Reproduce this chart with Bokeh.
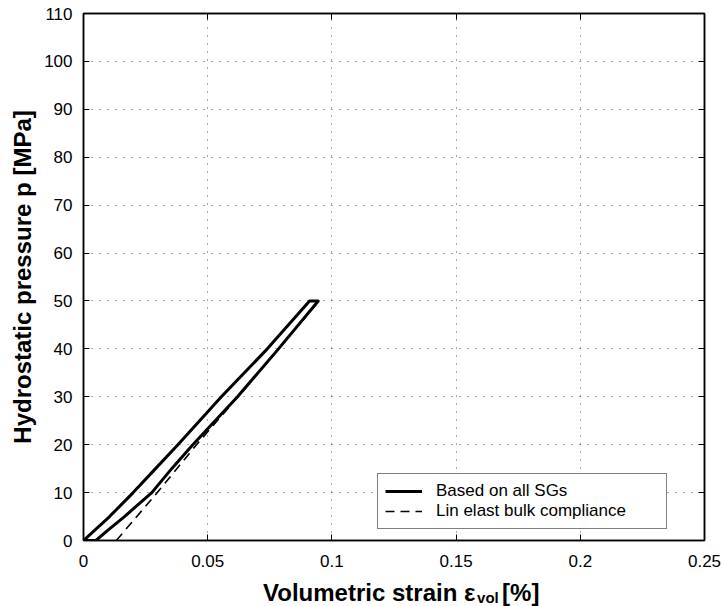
from bokeh.plotting import figure
from bokeh.models import (Range1d, FixedTicker, LinearAxis, Legend, LegendItem,
                          Label, CustomJSTickFormatter)
from bokeh.layouts import column
from bokeh.embed import file_html
from bokeh.resources import INLINE

# ---- data ----
loop_strain = [0.0, 0.0105, 0.0200, 0.0290, 0.0380, 0.0555, 0.0740, 0.0910,
               0.0945, 0.0785, 0.0620, 0.0440, 0.0355, 0.0275, 0.0165, 0.0095, 0.0050, 0.0]
loop_pressure = [0, 5, 10, 15, 20, 30, 40, 50,
                 50, 40, 30, 20, 15, 10, 5, 2, 0, 0]
lin_strain = [0.0132, 0.0297, 0.0455, 0.0622, 0.0786, 0.0948]
lin_pressure = [0, 10, 20, 30, 40, 50]

x_ticks = [0, 0.05, 0.1, 0.15, 0.2, 0.25]
x_tick_labels = ["0", "0.05", "0.1", "0.15", "0.2", "0.25"]
y_ticks = [0, 10, 20, 30, 40, 50, 60, 70, 80, 90, 100, 110]
series_names = ["Based on all SGs", "Lin elast bulk compliance"]

FONT = "Liberation Sans"
TITLE_H = 34

p = figure(width=721, height=606 - TITLE_H, x_range=Range1d(0, 0.25), y_range=Range1d(0, 110),
           output_backend="svg", toolbar_location=None,
           min_border_left=83, min_border_right=17, min_border_top=13,
           min_border_bottom=606 - TITLE_H - 540)
p.background_fill_color = "white"
p.border_fill_color = "white"
p.outline_line_color = "black"
p.outline_line_width = 1.5

# main axes
for ax in (p.xaxis[0], p.yaxis[0]):
    ax.major_tick_in = 6
    ax.major_tick_out = 0
    ax.minor_tick_in = 0
    ax.minor_tick_out = 0
    ax.axis_line_color = "black"
    ax.axis_line_width = 1.5
    ax.major_tick_line_color = "black"
    ax.major_label_text_font = FONT
    ax.major_label_text_font_size = "17px"
    ax.major_label_text_color = "black"

p.xaxis.ticker = FixedTicker(ticks=x_ticks)
p.xaxis.major_label_overrides = dict(zip(x_ticks, x_tick_labels))
p.xaxis.major_label_standoff = 14
p.xaxis.axis_label = None

p.yaxis.ticker = FixedTicker(ticks=y_ticks)
p.yaxis.major_label_standoff = 11
p.yaxis.axis_label = "Hydrostatic pressure p [MPa]"
p.yaxis.axis_label_text_font = FONT
p.yaxis.axis_label_text_font_size = "24px"
p.yaxis.axis_label_text_font_style = "bold"
p.yaxis.axis_label_text_color = "black"
p.yaxis.axis_label_standoff = 5

# inner ticks on top and right (box)
blank = CustomJSTickFormatter(code="return ''")
top_ax = LinearAxis(ticker=FixedTicker(ticks=x_ticks), formatter=blank,
                    major_tick_in=6, major_tick_out=0, minor_tick_in=0, minor_tick_out=0,
                    major_label_standoff=0, axis_line_width=1.5,
                    major_label_text_font_size="1px")
right_ax = LinearAxis(ticker=FixedTicker(ticks=y_ticks), formatter=blank,
                      major_tick_in=6, major_tick_out=0, minor_tick_in=0, minor_tick_out=0,
                      major_label_standoff=0, axis_line_width=1.5,
                      major_label_text_font_size="1px")
p.add_layout(top_ax, "above")
p.add_layout(right_ax, "right")

# grid
for g in (p.xgrid[0], p.ygrid[0]):
    g.grid_line_color = "#555555"
    g.grid_line_width = 1
    g.grid_line_dash = "1 7"
p.xgrid.ticker = FixedTicker(ticks=x_ticks)
p.ygrid.ticker = FixedTicker(ticks=y_ticks)

# series
r1 = p.line(loop_strain, loop_pressure, line_color="black", line_width=3,
            line_join="round")
r2 = p.line(lin_strain, lin_pressure, line_color="black", line_width=1.6, line_dash="9 6")

legend = Legend(items=[LegendItem(label=series_names[0], renderers=[r1]),
                       LegendItem(label=series_names[1], renderers=[r2])],
                location=(294, 11), orientation="vertical",
                padding=7, spacing=0, margin=0,
                glyph_width=37, glyph_height=20, label_height=20,
                label_standoff=14, label_width=223,
                label_text_font=FONT, label_text_font_size="17px",
                label_text_color="black",
                border_line_color="black", border_line_width=1,
                background_fill_color="white", background_fill_alpha=1)
p.add_layout(legend)

# x axis title with subscript, in a strip below the chart (pixel coordinates)
t = figure(width=721, height=TITLE_H, x_range=Range1d(0, 721), y_range=Range1d(TITLE_H, 0),
           output_backend="svg", toolbar_location=None, min_border=0,
           x_axis_type=None, y_axis_type=None)
t.outline_line_color = None
t.grid.visible = False
t.background_fill_color = "white"
t.border_fill_color = "white"

base = 592 - (606 - TITLE_H)
title_a = Label(x=455, y=base, text="Volumetric strain ε",
                text_align="right", text_baseline="alphabetic",
                text_font=FONT, text_font_size="24px", text_font_style="bold",
                text_color="black")
title_b = Label(x=457, y=base + 5, text="vol",
                text_align="left", text_baseline="alphabetic",
                text_font=FONT, text_font_size="15px", text_font_style="bold",
                text_color="black")
title_c = Label(x=486, y=base, text="[%]",
                text_align="left", text_baseline="alphabetic",
                text_font=FONT, text_font_size="24px", text_font_style="bold",
                text_color="black")
for lab in (title_a, title_b, title_c):
    t.add_layout(lab)

layout = column(p, t, spacing=0)
open("out.html", "w").write(file_html(layout, INLINE))
